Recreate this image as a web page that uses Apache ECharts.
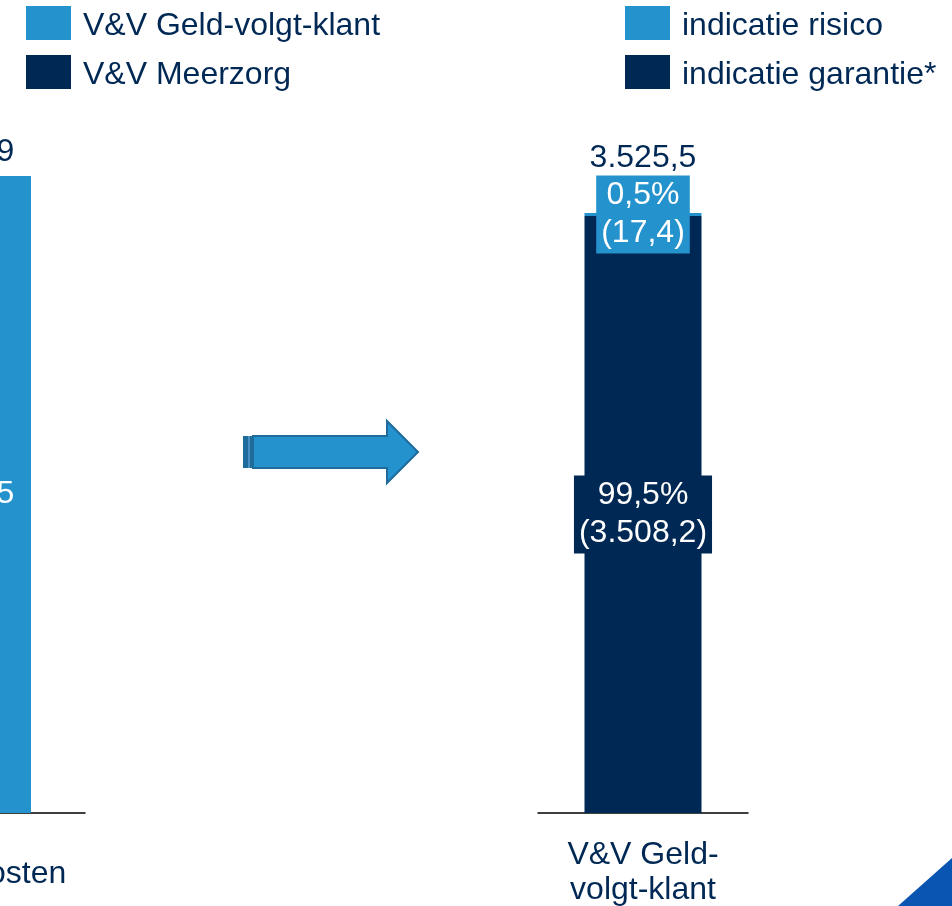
<!DOCTYPE html>
<html>
<head>
<meta charset="utf-8">
<script src="https://cdn.jsdelivr.net/npm/echarts@6/dist/echarts.min.js"></script>
<style>
  html, body { margin: 0; padding: 0; background: #fff; overflow: hidden; width: 952px; height: 906px; }
  /* linker grafiek valt deels buiten beeld: canvas 200px naar links verschoven */
  #chart { position: absolute; left: -200px; top: 0; width: 1152px; height: 906px; }
</style>
</head>
<body>
<div id="chart"></div>
<script>
// linker grafiek (deels buiten beeld)
const leftCategories = ["Totale kosten"];
const gvkValues = [3525.5];
const meerzorgValues = [0.4];
const leftTotals = [3525.9];

// rechter grafiek
const rightCategories = ["V&V Geld-\nvolgt-klant"];
const risicoValues = [17.4];
const garantieValues = [3508.2];
const rightTotals = [3525.5];
const risicoPct = ["0,5%"];
const garantiePct = ["99,5%"];

const LIGHT = "#2492cc";
const DARK = "#002855";
const FONT = "'Liberation Sans', Arial, sans-serif";
const OFF = 200; // verschuiving van het canvas

// getal in NL notatie: 3.525,5
function fmt(v) {
  let parts = v.toFixed(1).split(".");
  let int = parts[0].replace(/\B(?=(\d{3})+(?!\d))/g, ".");
  return int + "," + parts[1];
}

function pts(list) {
  return list.map(p => [p[0] + OFF, p[1]]);
}

let chart = echarts.init(document.getElementById("chart"));

let legendText = {
  fontSize: 32, color: DARK, fontFamily: FONT, padding: [0, 0, 0, 7],
  rich: {
    t: { fontSize: 32, color: DARK, fontFamily: FONT, lineHeight: 34, padding: [6, 0, 0, 0] }
  }
};

let option = {
  animation: false,
  textStyle: { fontFamily: FONT },
  legend: [
    {
      data: ["V&V Geld-volgt-klant", "V&V Meerzorg"],
      orient: "vertical",
      left: 21 + OFF,
      top: -1,
      icon: "rect",
      itemWidth: 45,
      itemHeight: 34,
      itemGap: 11,
      selectedMode: false,
      formatter: name => "{t|" + name + "}",
      textStyle: legendText
    },
    {
      data: ["indicatie risico", "indicatie garantie*"],
      orient: "vertical",
      left: 620 + OFF,
      top: -1,
      icon: "rect",
      itemWidth: 45,
      itemHeight: 34,
      itemGap: 11,
      selectedMode: false,
      formatter: name => "{t|" + name + "}",
      textStyle: legendText
    }
  ],
  grid: [
    { left: -163 + OFF, width: 248, top: 176, bottom: 93, outerBoundsMode: "none" },
    { left: 538 + OFF, width: 210, top: 213, bottom: 93, outerBoundsMode: "none" }
  ],
  xAxis: [
    {
      type: "category",
      gridIndex: 0,
      data: leftCategories,
      axisTick: { show: false },
      axisLine: { lineStyle: { color: "#000", width: 1.5 } },
      axisLabel: {
        fontSize: 32, color: DARK, fontFamily: FONT, lineHeight: 35,
        margin: 44, padding: [0, 0, 0, 22]
      }
    },
    {
      type: "category",
      gridIndex: 1,
      data: rightCategories,
      axisTick: { show: false },
      axisLine: { lineStyle: { color: "#000", width: 1.5 } },
      axisLabel: { fontSize: 32, color: DARK, fontFamily: FONT, lineHeight: 35, margin: 25 }
    }
  ],
  yAxis: [
    { type: "value", gridIndex: 0, min: 0, max: leftTotals[0], show: false },
    { type: "value", gridIndex: 1, min: 0, max: risicoValues[0] + garantieValues[0], show: false }
  ],
  series: [
    {
      name: "V&V Geld-volgt-klant",
      type: "bar",
      xAxisIndex: 0,
      yAxisIndex: 0,
      stack: "links",
      barWidth: 140,
      data: gvkValues,
      itemStyle: { color: LIGHT },
      label: {
        show: true,
        position: "inside",
        fontSize: 32,
        color: "#fff",
        fontFamily: FONT,
        formatter: p => fmt(p.value)
      }
    },
    {
      name: "V&V Meerzorg",
      type: "bar",
      xAxisIndex: 0,
      yAxisIndex: 0,
      stack: "links",
      barWidth: 140,
      data: meerzorgValues,
      itemStyle: { color: DARK }
    },
    {
      name: "totaal links",
      type: "bar",
      xAxisIndex: 0,
      yAxisIndex: 0,
      stack: "links",
      barWidth: 140,
      data: leftTotals.map(() => 0),
      itemStyle: { color: "transparent" },
      label: {
        show: true,
        position: "top",
        distance: 8,
        fontSize: 32,
        color: DARK,
        fontFamily: FONT,
        formatter: p => fmt(leftTotals[p.dataIndex])
      }
    },
    {
      name: "indicatie garantie*",
      type: "bar",
      xAxisIndex: 1,
      yAxisIndex: 1,
      stack: "rechts",
      barWidth: 117,
      data: garantieValues,
      itemStyle: { color: DARK },
      label: {
        show: true,
        position: "inside",
        fontSize: 32,
        color: "#fff",
        fontFamily: FONT,
        lineHeight: 38,
        backgroundColor: DARK,
        padding: [1, 5],
        formatter: p => garantiePct[p.dataIndex] + "\n(" + fmt(p.value) + ")"
      }
    },
    {
      name: "indicatie risico",
      type: "bar",
      xAxisIndex: 1,
      yAxisIndex: 1,
      stack: "rechts",
      barWidth: 117,
      data: risicoValues,
      itemStyle: { color: LIGHT },
      label: {
        show: true,
        position: "inside",
        fontSize: 32,
        color: "#fff",
        fontFamily: FONT,
        lineHeight: 38,
        backgroundColor: LIGHT,
        padding: [1, 5],
        formatter: p => risicoPct[p.dataIndex] + "\n(" + fmt(p.value) + ")"
      }
    },
    {
      name: "totaal rechts",
      type: "bar",
      xAxisIndex: 1,
      yAxisIndex: 1,
      stack: "rechts",
      barWidth: 117,
      data: rightTotals.map(() => 0),
      itemStyle: { color: "transparent" },
      label: {
        show: true,
        position: "top",
        distance: 39,
        fontSize: 32,
        color: DARK,
        fontFamily: FONT,
        formatter: p => fmt(rightTotals[p.dataIndex])
      }
    }
  ],
  graphic: [
    // pijl tussen de twee grafieken
    {
      type: "polygon",
      shape: { points: pts([[253, 436], [387, 436], [387, 421], [418, 452], [387, 483], [387, 468], [253, 468]]) },
      style: { fill: LIGHT, stroke: "#1f6b9c", lineWidth: 2 }
    },
    { type: "rect", shape: { x: 243 + OFF, y: 436, width: 5, height: 32 }, style: { fill: "#1f6b9c" } },
    { type: "rect", shape: { x: 248 + OFF, y: 436, width: 2, height: 32 }, style: { fill: "#4a8fbf" } },
    { type: "rect", shape: { x: 250 + OFF, y: 436, width: 4, height: 32 }, style: { fill: "#1f6b9c" } },
    // hoekje rechtsonder
    {
      type: "polygon",
      shape: { points: pts([[898, 906], [952, 858], [952, 906]]) },
      style: { fill: "#0a55b2" }
    }
  ]
};

chart.setOption(option);
</script>
</body>
</html>
